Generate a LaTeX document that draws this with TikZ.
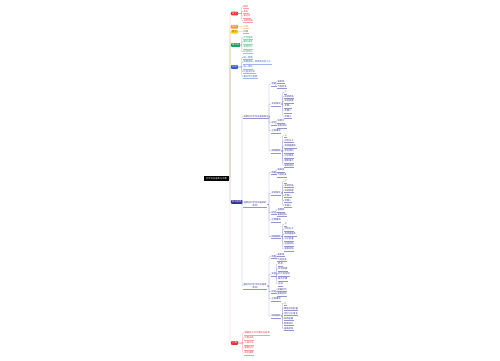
\documentclass[tikz,border=0pt]{standalone}
\usepackage{fontspec}
\setmainfont{Noto Sans CJK SC}

\definecolor{redA}{RGB}{222,52,58}
\definecolor{orangeA}{RGB}{240,150,50}
\definecolor{yellowA}{RGB}{245,205,40}
\definecolor{greenA}{RGB}{28,160,100}
\definecolor{blueA}{RGB}{50,90,200}
\definecolor{navyA}{RGB}{50,50,150}
\definecolor{lilacA}{RGB}{150,150,205}
\definecolor{grayA}{RGB}{90,90,90}

\newcommand\mapfont{\fontsize{2.3}{2.8}\selectfont}

\tikzset{
  root/.style={fill=black, text=white, font=\mapfont, minimum width=25pt, minimum height=4.5pt, inner sep=0.5pt},
  topic/.style={fill=#1, text=white, font=\mapfont, anchor=west, inner xsep=1pt, inner ysep=0.6pt, minimum height=3.6pt, rounded corners=0.4pt},
  leaf/.style={text=#1, font=\mapfont, anchor=west, inner xsep=0.3pt, inner ysep=0.4pt,
    append after command={(\tikzlastnode.south west) edge[draw=#1!45, line width=0.25pt] (\tikzlastnode.south east)}},
  subleaf/.style={text=navyA, font=\mapfont, anchor=west, inner xsep=0.3pt, inner ysep=0.4pt, align=center,
    append after command={(\tikzlastnode.south west) edge[draw=lilacA, line width=0.25pt] (\tikzlastnode.south east)}},
  link/.style={draw=#1, line width=0.35pt, rounded corners=0.7pt},
}

\begin{document}
\begin{tikzpicture}[x=1pt, y=-1pt]
  \useasboundingbox (0,0) rectangle (500,360);

  % ==== ROOT ====
  \node[root] (root) at (216.5,178.5) {化学反应速率与平衡};

  % ==== MAIN TOPICS ====
  \node[topic=redA] (def) at (231,13.5) {定义};
  \node[topic=orangeA] (feat) at (231,26.7) {特点};
  \node[topic=yellowA, text=grayA] (mean) at (231,31.7) {意义};
  \node[topic=greenA] (expr) at (231,45) {表示法};
  \node[topic=blueA] (comp) at (231,67) {比较};
  \node[topic=navyA] (impact) at (231,202) {影响因素};
  \node[topic=redA] (calc) at (231,343) {计算};

  \foreach \n/\c in {def/redA!60, feat/orangeA!60, mean/yellowA!70, expr/greenA!55, comp/blueA!50, impact/lilacA, calc/redA!45}
    \draw[link=\c] (root.east) -| ([xshift=-1pt]\n.west) -- (\n.west);

  % ==== SIMPLE BRANCHES ====
  \foreach \y/\t [count=\i] in {6.7/概念, 11.2/单位, 16/表达式, 20.7/适用范围}{
    \node[leaf=redA] (def-\i) at (243,\y) {\t};
    \draw[link=redA!55] (def.east) -| ([xshift=-1.2pt]def-\i.west) -- (def-\i.west);
  }
  \node[leaf=orangeA] (feat-1) at (243,26.2) {可逆};
  \draw[link=orangeA!60] (feat.east) -- (feat-1.west);
  \node[leaf=grayA] (mean-1) at (243,31.2) {快慢};
  \draw[link=yellowA] (mean.east) -- (mean-1.west);
  \foreach \y/\t [count=\i] in {37.3/平均速率, 42/瞬时速率, 47/浓度变化, 51.7/时间变化}{
    \node[leaf=greenA] (expr-\i) at (243,\y) {\t};
    \draw[link=greenA!55] (expr.east) -| ([xshift=-1.2pt]expr-\i.west) -- (expr-\i.west);
  }
  \foreach \y/\t [count=\i] in {57.3/统一物质, 62/换算成同一物质再比较大小, 67/统一单位, 71.7/比值法比较, 76.7/看化学计量数}{
    \node[leaf=blueA] (comp-\i) at (243,\y) {\t};
    \draw[link=blueA!50] (comp.east) -| ([xshift=-1.2pt]comp-\i.west) -- (comp-\i.west);
  }
  \foreach \y/\t [count=\i] in {333/根据定义式计算反应速率, 338/比例关系, 343/三段式法, 348/图像分析, 353/单位换算}{
    \node[leaf=redA] (calc-\i) at (244,\y) {\t};
    \draw[link=redA!55] (calc.east) -| ([xshift=-1.2pt]calc-\i.west) -- (calc-\i.west);
  }

  % ==== IMPACT: THREE FACTORS ====
  \node[subleaf] (conc) at (243,116.7) {浓度对化学反应速率影响};
  \node[subleaf] (temp) at (243,204.5) {温度对化学反应速率的\\影响};
  \node[subleaf] (cata) at (243,286) {催化剂对化学反应速率\\影响};
  \foreach \n in {conc, temp, cata}
    \draw[link=lilacA] (impact.east) -| ([xshift=-1pt]\n.west) -- (\n.west);

  % ---- concentration ----
  \foreach \y/\t/\n in {84/现象/a1, 104/实验探究/a2, 123/结论/a3, 131/注意事项/a4, 151/微观解释/a5}{
    \node[subleaf] (\n) at (271,\y) {\t};
    \draw[link=lilacA] (conc.east) -| ([xshift=-2pt]\n.west) -- (\n.west);
  }
  \foreach \y/\t [count=\i] in {81.7/速率快, 86.7/气泡变多}{
    \node[subleaf] (a1-\i) at (277,\y) {\t};
    \draw[link=lilacA] (a1.east) -| ([xshift=-1.2pt]a1-\i.west) -- (a1-\i.west);
  }
  \foreach \y/\t [count=\i] in {92/①, 96.3/实验药品, 101/实验装置, 106/步骤一, 111/步骤二, 116.5/步骤三}{
    \node[subleaf] (a2-\i) at (284,\y) {\t};
    \draw[link=lilacA] (a2.east) -| ([xshift=-1.2pt]a2-\i.west) -- (a2-\i.west);
  }
  \foreach \y/\t [count=\i] in {121/浓度大, 126/速率加快}{
    \node[subleaf] (a3-\i) at (277,\y) {\t};
    \draw[link=lilacA] (a3.east) -| ([xshift=-1.2pt]a3-\i.west) -- (a3-\i.west);
  }
  \foreach \y/\t [count=\i] in {135.7/②, 140.7/活化分子, 146/有效碰撞多, 151/单位体积, 156/分子数多, 161/频率增大, 165.3/速率加快}{
    \node[subleaf] (a5-\i) at (284,\y) {\t};
    \draw[link=lilacA] (a5.east) -| ([xshift=-1.2pt]a5-\i.west) -- (a5-\i.west);
  }

  % ---- temperature ----
  \foreach \y/\t/\n in {172.7/现象/b1, 193/实验探究/b2, 212.7/结论/b3, 220/注意事项/b4, 236.7/微观解释/b5}{
    \node[subleaf] (\n) at (271,\y) {\t};
    \draw[link=lilacA] (temp.east) -| ([xshift=-2pt]\n.west) -- (\n.west);
  }
  \foreach \y/\t [count=\i] in {170/速率快, 175/气泡变多}{
    \node[subleaf] (b1-\i) at (277,\y) {\t};
    \draw[link=lilacA] (b1.east) -| ([xshift=-1.2pt]b1-\i.west) -- (b1-\i.west);
  }
  \foreach \y/\t [count=\i] in {181/①, 185.7/实验药品, 190.7/实验装置, 195.7/步骤一, 200.7/步骤二, 205.7/步骤三}{
    \node[subleaf] (b2-\i) at (284,\y) {\t};
    \draw[link=lilacA] (b2.east) -| ([xshift=-1.2pt]b2-\i.west) -- (b2-\i.west);
  }
  \foreach \y/\t [count=\i] in {210/温度高, 214.7/速率加快}{
    \node[subleaf] (b3-\i) at (277,\y) {\t};
    \draw[link=lilacA] (b3.east) -| ([xshift=-1.2pt]b3-\i.west) -- (b3-\i.west);
  }
  \foreach \y/\t [count=\i] in {224/②, 229/活化分子, 234/有效碰撞多, 239/分子能量, 244/运动加快, 249/速率加快}{
    \node[subleaf] (b5-\i) at (284,\y) {\t};
    \draw[link=lilacA] (b5.east) -| ([xshift=-1.2pt]b5-\i.west) -- (b5-\i.west);
  }

  % ---- catalyst ----
  \foreach \y/\t/\n in {256.7/现象/c1, 274/实验/c2, 291.7/结论/c3, 299/注意事项/c4, 316/微观解释/c5}{
    \node[subleaf] (\n) at (271,\y) {\t};
    \draw[link=lilacA] (cata.east) -| ([xshift=-2pt]\n.west) -- (\n.west);
  }
  \foreach \y/\t [count=\i] in {254.7/速率快, 259.3/气泡变多}{
    \node[subleaf] (c1-\i) at (277,\y) {\t};
    \draw[link=lilacA] (c1.east) -| ([xshift=-1.2pt]c1-\i.west) -- (c1-\i.west);
  }
  \foreach \y/\t [count=\i] in {264/药品, 269/实验装置, 274/对比实验组, 279/操作步骤, 284/记录}{
    \node[subleaf] (c2-\i) at (277.7,\y) {\t};
    \draw[link=lilacA] (c2.east) -| ([xshift=-1.2pt]c2-\i.west) -- (c2-\i.west);
  }
  \foreach \y/\t [count=\i] in {289.7/加催化剂, 294/速率加快}{
    \node[subleaf] (c3-\i) at (277,\y) {\t};
    \draw[link=lilacA] (c3.east) -| ([xshift=-1.2pt]c3-\i.west) -- (c3-\i.west);
  }
  \foreach \y/\t [count=\i] in {303.3/③, 308.3/降低活化能量, 313.3/活化分子增多, 318.3/有效碰撞, 323.3/频率增大, 328.3/速率加快}{
    \node[subleaf] (c5-\i) at (283.5,\y) {\t};
    \draw[link=lilacA] (c5.east) -| ([xshift=-1.2pt]c5-\i.west) -- (c5-\i.west);
  }
\end{tikzpicture}
\end{document}
